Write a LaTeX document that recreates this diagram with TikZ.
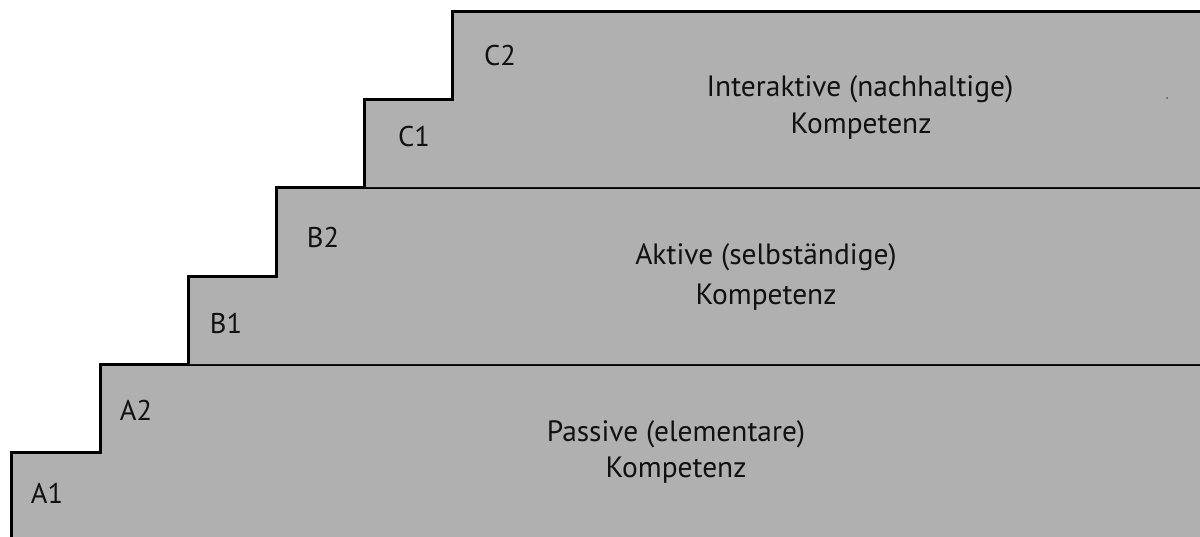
\documentclass[tikz,border=0pt]{standalone}
\usepackage{fontspec}
\setmainfont{PT Sans}
\definecolor{stepgray}{HTML}{B0B0B0}
\definecolor{inkc}{HTML}{111111}
\tikzset{
  band/.style={draw=black, line width=3pt, line join=miter},
  lvl/.style={anchor=base, inner sep=0pt, text=inkc, font=\fontsize{28.5}{34}\selectfont},
  ttl/.style={anchor=base, inner sep=0pt, text=inkc, font=\fontsize{29.4}{35}\selectfont},
}
\begin{document}
\begin{tikzpicture}[x=1pt,y=-1pt]
\useasboundingbox (0,0) rectangle (1200,536);
% band A
\fill[stepgray] (11,540) -- (11,452) -- (100,452) -- (100,364) -- (1204,364) -- (1204,540) -- cycle;
\draw[band] (11,540) -- (11,452) -- (100,452) -- (100,364) -- (1204,364);
% band B
\fill[stepgray] (188,364) -- (188,276) -- (276,276) -- (276,187) -- (1204,187) -- (1204,364) -- cycle;
\draw[band] (188,364) -- (188,276) -- (276,276) -- (276,187) -- (1204,187);
% band C
\fill[stepgray] (364,187) -- (364,99) -- (452,99) -- (452,11) -- (1204,11) -- (1204,187) -- cycle;
\draw[band] (364,187) -- (364,99) -- (452,99) -- (452,11) -- (1204,11);
\fill[inkc!70] (1167,98) circle (1pt);
% level labels
\node[lvl] (a1) at (47,503) {A1};
\node[lvl] (a2) at (136,420) {A2};
\node[lvl] (b1) at (226,333) {B1};
\node[lvl] (b2) at (323,247) {B2};
\node[lvl] (c1) at (414,146) {C1};
\node[lvl] (c2) at (500,65) {C2};
% titles
\node[ttl] (ct1) at (860,96) {Interaktive (nachhaltige)};
\node[ttl] (ct2) at (861,133) {Kompetenz};
\node[ttl] (bt1) at (766,264) {Aktive (selbständige)};
\node[ttl] (bt2) at (766,304) {Kompetenz};
\node[ttl] (at1) at (676,441) {Passive (elementare)};
\node[ttl] (at2) at (676,477) {Kompetenz};
\end{tikzpicture}
\end{document}
